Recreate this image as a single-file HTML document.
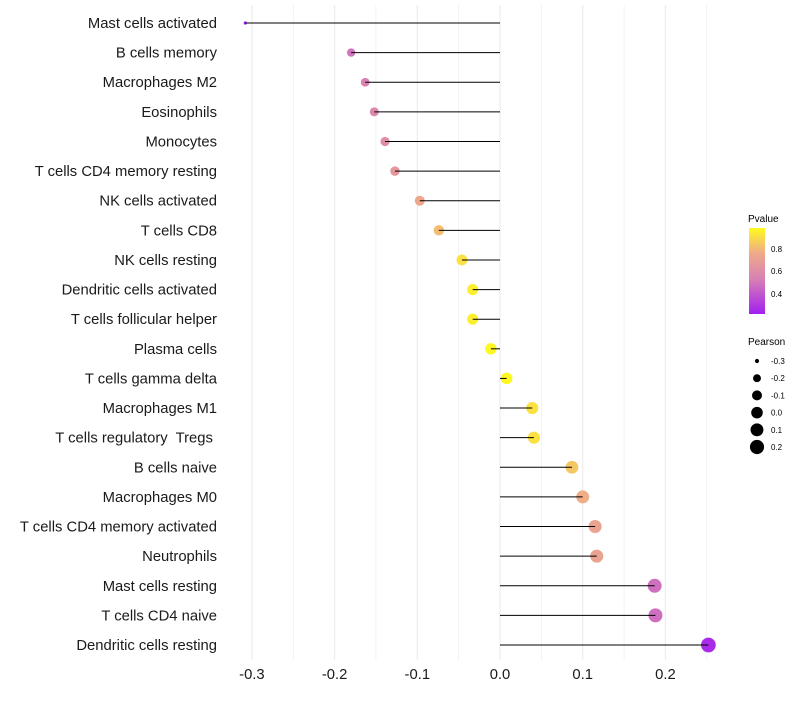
<!DOCTYPE html>
<html><head><meta charset="utf-8"><style>
body{margin:0;background:#fff;font-family:"Liberation Sans",sans-serif}
svg text{font-family:"Liberation Sans",sans-serif;white-space:pre}
</style></head><body>
<svg id="chart" width="800" height="700" xmlns="http://www.w3.org/2000/svg">
<defs><linearGradient id="pg" x1="0" y1="1" x2="0" y2="0">
<stop offset="0" stop-color="#a21ff0"/><stop offset="0.4" stop-color="#d77fb6"/><stop offset="0.72" stop-color="#f0ad86"/><stop offset="1" stop-color="#fffb1e"/></linearGradient></defs>
<g id="grid"></g>
<g id="marks"></g>
<g id="axes"></g>
<g>
<text x="748" y="222" font-size="10" fill="#000">Pvalue</text>
<rect x="749" y="228" width="16" height="86" fill="url(#pg)"/>
<text x="771" y="252" font-size="8">0.8</text>
<text x="771" y="274" font-size="8">0.6</text>
<text x="771" y="297" font-size="8">0.4</text>
</g>
<g id="sizeLegend">
<text x="748" y="345" font-size="10">Pearson</text>
</g>
</svg>
<script>
const categories=["Mast cells activated","B cells memory","Macrophages M2","Eosinophils","Monocytes","T cells CD4 memory resting","NK cells activated","T cells CD8","NK cells resting","Dendritic cells activated","T cells follicular helper","Plasma cells","T cells gamma delta","Macrophages M1","T cells regulatory  Tregs ","B cells naive","Macrophages M0","T cells CD4 memory activated","Neutrophils","Mast cells resting","T cells CD4 naive","Dendritic cells resting"];
const pearson=[-0.308,-0.180,-0.163,-0.152,-0.139,-0.127,-0.097,-0.074,-0.046,-0.033,-0.033,-0.011,0.008,0.039,0.041,0.087,0.100,0.115,0.117,0.187,0.188,0.252];
const pvalues=[0.22,0.50,0.55,0.58,0.62,0.67,0.77,0.84,0.92,0.95,0.95,0.97,0.97,0.92,0.92,0.86,0.80,0.74,0.74,0.48,0.48,0.26];
const xTicks=[-0.3,-0.2,-0.1,0.0,0.1,0.2];
const xTickLabels=["-0.3","-0.2","-0.1","0.0","0.1","0.2"];
const sizeLegendValues=[-0.3,-0.2,-0.1,0.0,0.1,0.2];
const NS="http://www.w3.org/2000/svg";
const X=v=>500+v*827;
const Y=i=>23+i*(622/21);
const R=v=>{const t=Math.max(0,Math.min(1,(v+0.31)/0.565));return 1.25*(1+4.9*Math.sqrt(t));};
function col(p){
 const st=[[0.22,[162,31,240]],[0.53,[215,127,182]],[0.8,[240,173,134]],[0.98,[255,251,30]]];
 if(p<=st[0][0])return "rgb("+st[0][1]+")";
 for(let i=1;i<st.length;i++){if(p<=st[i][0]){const t=(p-st[i-1][0])/(st[i][0]-st[i-1][0]);const c=st[i-1][1].map((a,k)=>Math.round(a+(st[i][1][k]-a)*t));return "rgb("+c+")";}}
 return "rgb("+st[3][1]+")";
}
function mk(tag,attrs,parent){const e=document.createElementNS(NS,tag);for(const k in attrs)e.setAttribute(k,attrs[k]);parent.appendChild(e);return e;}
const grid=document.getElementById('grid'),marks=document.getElementById('marks'),axes=document.getElementById('axes');
for(let v=-0.3;v<=0.251;v+=0.05){const g=mk('line',{x1:X(v),x2:X(v),y1:5,y2:660,stroke:'#ebebeb','stroke-width':Math.abs(Math.round(v*100)%10)<1?1.1:0.6},grid);

}
categories.forEach((c,i)=>{
 const t=mk('text',{x:217,y:Y(i)+5,'font-size':14.8,'text-anchor':'end',fill:'#1a1a1a'},axes);t.textContent=c;
 
 
 const p=mk('circle',{cx:X(pearson[i]),cy:Y(i),r:R(pearson[i]),fill:col(pvalues[i])},marks);
 
 
 const l=mk('line',{x1:X(0),x2:X(pearson[i]),y1:Y(i),y2:Y(i),stroke:'#000','stroke-width':1},marks);
 
 
});
xTicks.forEach((v,i)=>{const t=mk('text',{x:X(v),y:679,'font-size':14.8,'text-anchor':'middle',fill:'#1a1a1a'},axes);t.textContent=xTickLabels[i];

});
const sl=document.getElementById('sizeLegend');
sizeLegendValues.forEach((v,i)=>{const y=361+i*17.2;
 const c=mk('circle',{cx:757,cy:y,r:R(v),fill:'#000'},sl);
 
 
 const t=mk('text',{x:771,y:y+3,'font-size':8},sl);t.textContent=v.toFixed(1);
 
 });
</script>
</body></html>
